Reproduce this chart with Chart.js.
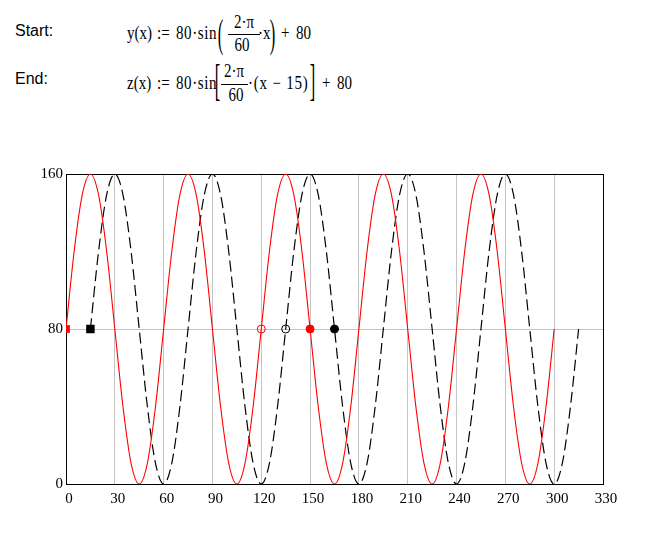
<!DOCTYPE html>
<html>
<head>
<meta charset="utf-8">
<script src="https://cdn.jsdelivr.net/npm/chart.js@4"></script>
<style>
    body { margin: 0; background: #fff; width: 662px; height: 552px; position: relative; overflow: hidden; }
    .t { position: absolute; white-space: pre; line-height: 15px; font-family: "Liberation Serif", serif; font-size: 15px; color: #000; transform: scale(1, 1.2); transform-origin: 0 50%; }
    .c { width: 40px; text-align: center; transform-origin: 50% 50%; }
    .big { transform-origin: 50% 50%; }
    .bar { position: absolute; height: 0; border-top: 1px solid #000; }
    .lbl { position: absolute; white-space: pre; line-height: 16px; font-family: "Liberation Sans", Arial, sans-serif; font-size: 16px; color: #000; }
    #wrap { position: absolute; left: 0; top: 160px; width: 662px; height: 360px; }
</style>
</head>
<body>
<!-- formulas above the chart -->
<span class="lbl" style="left:15px; top:23px;">Start:</span>
<span class="t" style="left:127px; top:26px;">y(x)</span>
<span class="t" style="left:157px; top:26px;">:=</span>
<span class="t" style="left:176px; top:26px; letter-spacing:0.6px;">80·sin</span>
<span class="t big" style="left:218px; top:27px; transform:scale(1.1,2.7);">(</span>
<span class="t c" style="left:224px; top:15px;">2·π</span>
<div class="bar" style="left:228px; top:34px; width:32px;"></div>
<span class="t c" style="left:222px; top:38px;">60</span>
<span class="t" style="left:258px; top:26px;">·x</span>
<span class="t big" style="left:270px; top:27px; transform:scale(1.1,2.7);">)</span>
<span class="t" style="left:281px; top:26px;">+</span>
<span class="t" style="left:296px; top:26px;">80</span>

<span class="lbl" style="left:15px; top:71px;">End:</span>
<span class="t" style="left:127px; top:76px;">z(x)</span>
<span class="t" style="left:157px; top:76px;">:=</span>
<span class="t" style="left:176px; top:76px; letter-spacing:0.6px;">80·sin</span>
<span class="t big" style="left:215px; top:74px; transform:scale(1.1,2.9);">[</span>
<span class="t c" style="left:214px; top:64px;">2·π</span>
<div class="bar" style="left:221px; top:84px; width:27px;"></div>
<span class="t c" style="left:216px; top:88px;">60</span>
<span class="t" style="left:248px; top:76px; letter-spacing:0.8px;">·(x − 15)</span>
<span class="t big" style="left:310px; top:74px; transform:scale(1.1,2.9);">]</span>
<span class="t" style="left:322px; top:76px;">+</span>
<span class="t" style="left:337px; top:76px;">80</span>

<div id="wrap"><canvas id="sineChart"></canvas></div>

<script>
// y(x) curve (red), sampled every 5
const startX = [0, 5, 10, 15, 20, 25, 30, 35, 40, 45, 50, 55,
    60, 65, 70, 75, 80, 85, 90, 95, 100, 105, 110, 115,
    120, 125, 130, 135, 140, 145, 150, 155, 160, 165, 170, 175,
    180, 185, 190, 195, 200, 205, 210, 215, 220, 225, 230, 235,
    240, 245, 250, 255, 260, 265, 270, 275, 280, 285, 290, 295, 300];
const startY = [80, 120, 149.3, 160, 149.3, 120, 80, 40, 10.7, 0, 10.7, 40,
    80, 120, 149.3, 160, 149.3, 120, 80, 40, 10.7, 0, 10.7, 40,
    80, 120, 149.3, 160, 149.3, 120, 80, 40, 10.7, 0, 10.7, 40,
    80, 120, 149.3, 160, 149.3, 120, 80, 40, 10.7, 0, 10.7, 40,
    80, 120, 149.3, 160, 149.3, 120, 80, 40, 10.7, 0, 10.7, 40, 80];

// z(x) curve (black dashed), shifted by 15
const endX = [15, 20, 25, 30, 35, 40, 45, 50, 55, 60, 65, 70,
    75, 80, 85, 90, 95, 100, 105, 110, 115, 120, 125, 130,
    135, 140, 145, 150, 155, 160, 165, 170, 175, 180, 185, 190,
    195, 200, 205, 210, 215, 220, 225, 230, 235, 240, 245, 250,
    255, 260, 265, 270, 275, 280, 285, 290, 295, 300, 305, 310, 315];
const endY = [80, 120, 149.3, 160, 149.3, 120, 80, 40, 10.7, 0, 10.7, 40,
    80, 120, 149.3, 160, 149.3, 120, 80, 40, 10.7, 0, 10.7, 40,
    80, 120, 149.3, 160, 149.3, 120, 80, 40, 10.7, 0, 10.7, 40,
    80, 120, 149.3, 160, 149.3, 120, 80, 40, 10.7, 0, 10.7, 40,
    80, 120, 149.3, 160, 149.3, 120, 80, 40, 10.7, 0, 10.7, 40, 80];

// marker points on the centre line
const startMarker = [0, 80];
const endMarker = [15, 80];
const redHollow = [120, 80];
const blackHollow = [135, 80];
const redFilled = [150, 80];
const blackFilled = [165, 80];

const xTicks = [0, 30, 60, 90, 120, 150, 180, 210, 240, 270, 300, 330];
const yTicks = [0, 80, 160];

const toPoints = (xs, ys) => xs.map((x, i) => ({x: x, y: ys[i]}));
const pt = p => [{x: p[0], y: p[1]}];

// black frame round the plot area
const framePlugin = {
    id: 'frame',
    beforeDatasetsDraw(chart) {
        const a = chart.chartArea;
        const ctx = chart.ctx;
        ctx.save();
        ctx.strokeStyle = '#000';
        ctx.lineWidth = 1;
        ctx.strokeRect(Math.round(a.left) + 0.5, Math.round(a.top) + 0.5,
            Math.round(a.right - a.left), Math.round(a.bottom - a.top));
        ctx.restore();
    }
};

const tickFont = {family: '"Liberation Serif", serif', size: 15};

new Chart(document.getElementById('sineChart').getContext('2d'), {
    type: 'scatter',
    data: {
        datasets: [
            {data: pt(startMarker), pointStyle: 'rect', pointRadius: 5.5, backgroundColor: '#ff0000', borderColor: '#ff0000', borderWidth: 0, clip: 0},
            {data: pt(endMarker), pointStyle: 'rect', pointRadius: 6, backgroundColor: '#000', borderColor: '#000', borderWidth: 0},
            {data: pt(redHollow), pointRadius: 4, backgroundColor: 'rgba(0,0,0,0)', borderColor: '#ff0000', borderWidth: 1},
            {data: pt(blackHollow), pointRadius: 4, backgroundColor: 'rgba(0,0,0,0)', borderColor: '#000', borderWidth: 1},
            {data: pt(redFilled), pointRadius: 4, backgroundColor: '#ff0000', borderColor: '#ff0000', borderWidth: 1},
            {data: pt(blackFilled), pointRadius: 4, backgroundColor: '#000', borderColor: '#000', borderWidth: 1},
            {
                data: toPoints(startX, startY),
                showLine: true,
                borderColor: '#ff0000',
                borderWidth: 1.1,
                pointRadius: 0,
                cubicInterpolationMode: 'monotone'
            },
            {
                data: toPoints(endX, endY),
                showLine: true,
                borderColor: '#000',
                borderWidth: 1.2,
                borderDash: [11, 5],
                pointRadius: 0,
                cubicInterpolationMode: 'monotone'
            }
        ]
    },
    options: {
        responsive: true,
        maintainAspectRatio: false,
        animation: false,
        layout: {padding: {top: 14, right: 59, left: 0, bottom: 0}},
        plugins: {legend: {display: false}, tooltip: {enabled: false}},
        scales: {
            x: {
                type: 'linear',
                min: 0,
                max: 330,
                afterBuildTicks: scale => { scale.ticks = xTicks.map(v => ({value: v})); },
                afterFit: scale => { scale.height = 36; },
                ticks: {color: '#000', font: tickFont, padding: 6, labelOffset: 3, maxRotation: 0},
                grid: {color: '#c4c4c4', drawTicks: false},
                border: {color: '#000'}
            },
            y: {
                min: 0,
                max: 160,
                afterBuildTicks: scale => { scale.ticks = yTicks.map(v => ({value: v})); },
                afterFit: scale => { scale.width = 66; },
                ticks: {color: '#000', font: tickFont, padding: 3},
                grid: {color: '#c4c4c4', drawTicks: false},
                border: {color: '#000'}
            }
        }
    },
    plugins: [framePlugin]
});
</script>
</body>
</html>
